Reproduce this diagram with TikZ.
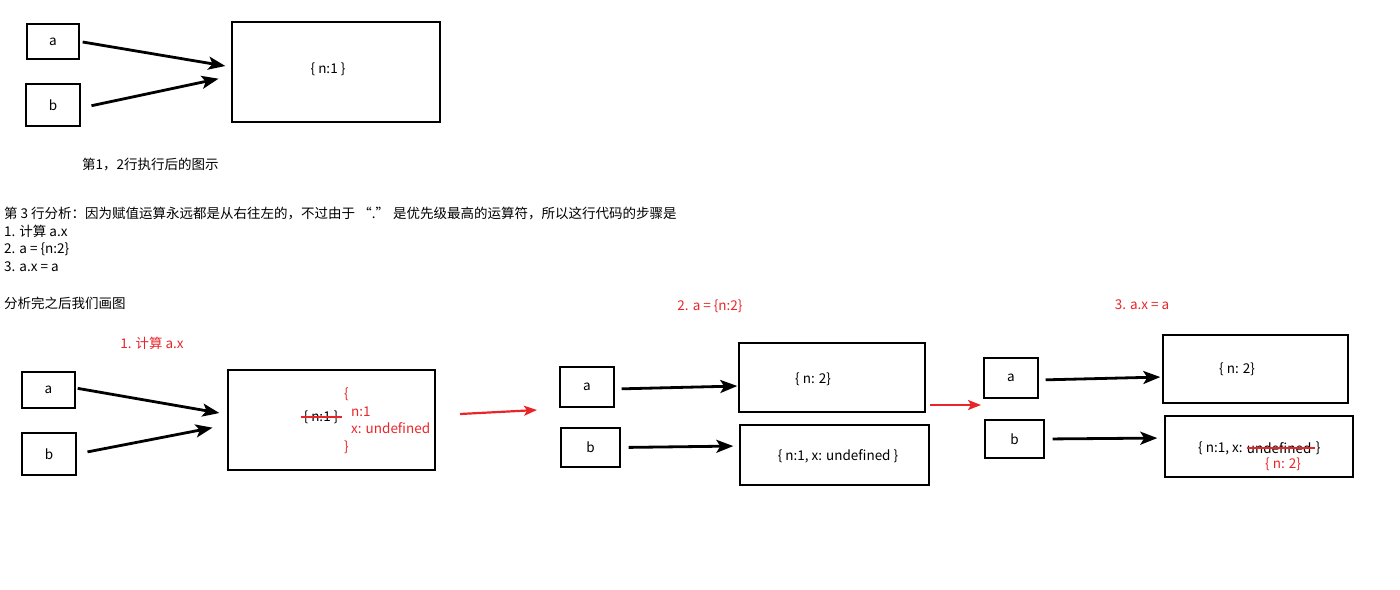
\documentclass[tikz,border=0pt]{standalone}
\usepackage{fontspec}
\setmainfont{Noto Sans CJK SC}
\usepackage{xcolor}
\usetikzlibrary{positioning,arrows.meta}
\definecolor{memred}{RGB}{232,38,42}

\begin{document}
\begin{tikzpicture}[x=1pt,y=-1pt,font=\fontsize{13.5}{17.5}\selectfont,
  box/.style={draw,line width=1.4pt,inner sep=0pt},
  ptr/.style={-{Stealth[length=17pt,width=13pt,inset=4pt]},line width=2.8pt},
  redptr/.style={-{Stealth[length=13pt,width=10pt,inset=3pt]},line width=2.2pt,draw=memred,fill=memred},
  strike/.style={draw=memred,line width=1.6pt},
  note/.style={text=memred,inner sep=0pt}]
\useasboundingbox (0,0) rectangle (1400,589);

% after lines 1 and 2
\node[box,minimum width=52pt,minimum height=35pt] (a1) at (53,41.5) {a};
\node[box,minimum width=54pt,minimum height=42pt] (b1) at (53,105) {b};
\node[box,minimum width=208pt,minimum height=100pt] (o1) at (336,72) {};
\node (v1) at (328,69) {\{ n:1 \}};
\draw[ptr,shorten <=3pt,shorten >=6pt] (a1.east) -- ([yshift=5pt]o1.west);
\draw[ptr,shorten <=11pt,shorten >=13pt] ([yshift=-3pt]b1.east) -- ([yshift=-4pt]o1.west);
\node[anchor=west,inner sep=0pt] (cap) at (82,165) {第1，2行执行后的图示};

% analysis text
\node[anchor=north west,align=left,inner sep=0pt] (txt) at (4,207) {第 3 行分析：因为赋值运算永远都是从右往左的，不过由于 “.” 是优先级最高的运算符，所以这行代码的步骤是\\
1. 计算 a.x\\
2. a = \{n:2\}\\
3. a.x = a};
\node[anchor=west,inner sep=0pt] (draw) at (4,303) {分析完之后我们画图};

% step 1
\node[note] (l1) at (152,343) {1. 计算 a.x};
\node[box,minimum width=53pt,minimum height=36pt] (a2) at (48.5,390) {a};
\node[box,minimum width=54pt,minimum height=42pt] (b2) at (49,454) {b};
\node[box,minimum width=207pt,minimum height=100pt] (o2) at (331.5,420) {};
\node[inner sep=0pt] (v2) at (321,417) {\{ n:1 \}};
\draw[strike] ([xshift=-2pt]v2.west) -- ([xshift=3pt]v2.east);
\node[note,anchor=north west,align=left] (n2) at (351,388) {\hspace*{-7pt}\{\\n:1\\x: undefined\\\hspace*{-7pt}\}};
\draw[ptr,shorten <=2pt,shorten >=8pt] ([yshift=2pt]a2.east) -- ([yshift=5.6pt]o2.west);
\draw[ptr,shorten <=11pt,shorten >=15pt] (b2.east) -- ([yshift=-4.8pt]o2.west);
\coordinate (s1) at (460,414);
\coordinate (e1) at (537,410);
\draw[redptr] (s1) -- (e1);

% step 2
\node[note] (l2) at (710,306) {2. a = \{n:2\}};
\node[box,minimum width=54pt,minimum height=40pt] (a3) at (587,387) {a};
\node[box,minimum width=59pt,minimum height=39pt] (b3) at (590.5,447.5) {b};
\node[box,minimum width=186pt,minimum height=69pt] (t3) at (832,377.5) {};
\node[box,minimum width=189pt,minimum height=60pt] (u3) at (834.5,455) {};
\node (v3) at (813,379) {\{ n: 2\}};
\node (w3) at (838,456) {\{ n:1, x: undefined \}};
\draw[ptr,shorten <=7pt,shorten >=1pt] ([yshift=-2pt]a3.east) -- ([yshift=-8.5pt]t3.west);
\draw[ptr,shorten <=8pt,shorten >=6pt] (b3.east) -- ([yshift=9pt]u3.west);
\coordinate (s2) at (930,405);
\coordinate (e2) at (981,405);
\draw[redptr] (s2) -- (e2);

% step 3
\node[note] (l3) at (1142,305) {3. a.x = a};
\node[box,minimum width=54pt,minimum height=40pt] (a4) at (1011,378) {a};
\node[box,minimum width=59pt,minimum height=38pt] (b4) at (1014.5,439) {b};
\node[box,minimum width=185pt,minimum height=68pt] (t4) at (1255.5,369) {};
\node[box,minimum width=188pt,minimum height=61pt] (u4) at (1259,446.5) {};
\node (v4) at (1237,369) {\{ n: 2\}};
\node[inner sep=0pt,anchor=west] (w4) at (1198,448) {\{ n:1, x:};
\node[inner sep=0pt,right=4pt of w4] (w4u) {undefined};
\node[inner sep=0pt,right=4pt of w4u] (w4e) {\}};
\draw[strike] (w4u.west) -- ([xshift=3pt]w4u.east);
\node[note] (x4) at (1283,464) {\{ n: 2\}};
\draw[ptr,shorten <=7pt,shorten >=2pt] ([yshift=-2pt]a4.east) -- ([yshift=-8pt]t4.west);
\draw[ptr,shorten <=8pt,shorten >=7pt] (b4.east) -- ([yshift=8.5pt]u4.west);
\end{tikzpicture}
\end{document}
